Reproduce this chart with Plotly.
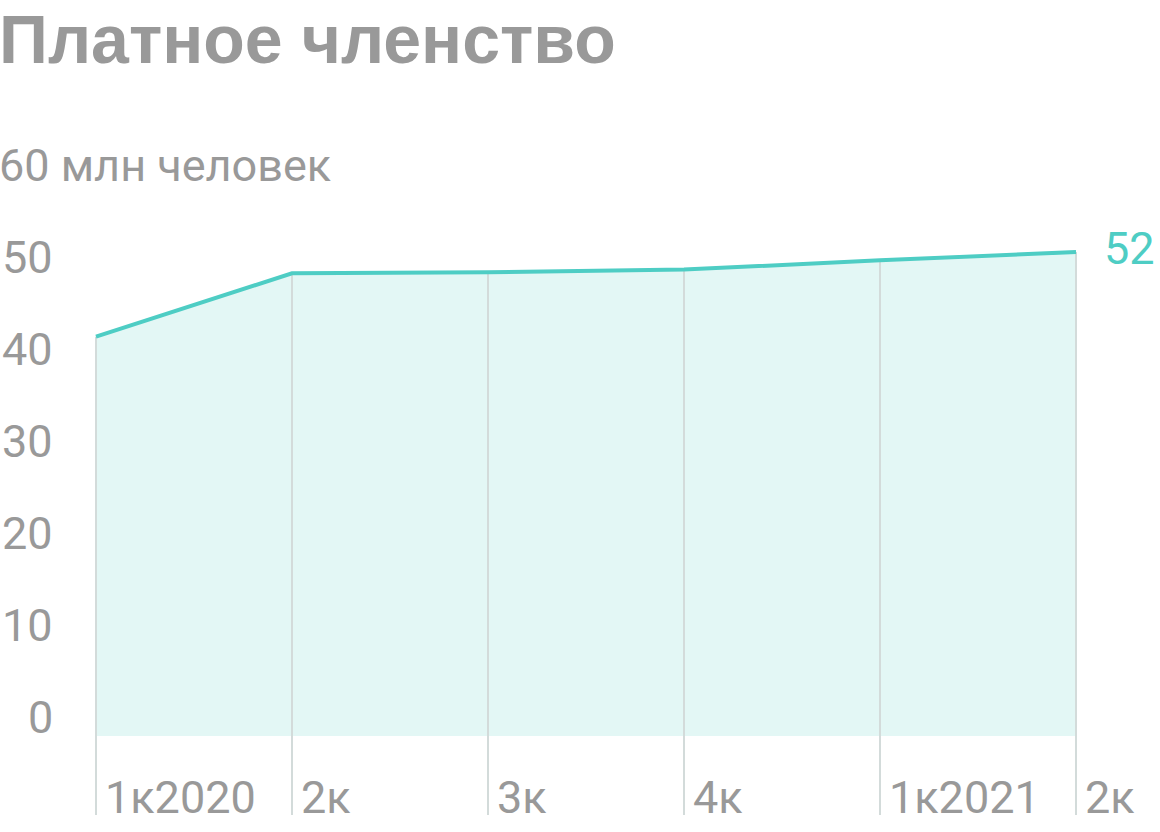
import plotly.graph_objects as go

# ---- data ----
categories = ["1к2020", "2к", "3к", "4к", "1к2021", "2к"]
members = [43.4, 50.3, 50.4, 50.7, 51.7, 52.6]
end_label = "52"
y_ticks = [0, 10, 20, 30, 40, 50, 60]
y_unit = "млн человек"
title = "Платное членство"

# ---- style ----
W, H = 1160, 832
TEAL = "#4ECDC4"
FILL = "#E3F7F5"
GRID = "#D3DBDA"
GRAY = "#999999"
FONT = "Roboto"
FS = 45

PX_PER_UNIT = 9.2
Y_BOTTOM_PX = 815     # bottom of plot area
ZERO_PX = 736
X0_PX, DX_PX = 96, 196

y_min = -(Y_BOTTOM_PX - ZERO_PX) / PX_PER_UNIT
y_max = ZERO_PX / PX_PER_UNIT
x_min = -X0_PX / DX_PX
x_max = (len(categories) - 1) + (W - (X0_PX + DX_PX * (len(categories) - 1))) / DX_PX

xs = list(range(len(categories)))

fig = go.Figure()

# area fill
fig.add_trace(go.Scatter(x=xs, y=members, mode="lines", line=dict(width=0, color=FILL),
                         fill="tozeroy", fillcolor=FILL, hoverinfo="skip", showlegend=False))

# vertical grid segments from bottom to the value
gx, gy = [], []
for i, v in zip(xs, members):
    gx += [i, i, None]
    gy += [y_min, v, None]
fig.add_trace(go.Scatter(x=gx, y=gy, mode="lines", line=dict(color=GRID, width=2),
                         hoverinfo="skip", showlegend=False))

# main line
fig.add_trace(go.Scatter(x=xs, y=members, mode="lines", line=dict(color=TEAL, width=4),
                         hoverinfo="skip", showlegend=False))

annotations = []
# title
annotations.append(dict(text=f"<b>{title}</b>", xref="paper", yref="paper", x=0, y=1,
                        xanchor="left", yanchor="top", showarrow=False, yshift=0, xshift=-2,
                        borderpad=0,
                        font=dict(family="Liberation Sans", size=68, color=GRAY)))
# y tick labels
for t in y_ticks:
    if t == y_ticks[-1]:
        annotations.append(dict(text=f"{t} {y_unit}", xref="paper", yref="y", x=0, y=t,
                                xanchor="left", yanchor="bottom", showarrow=False, yshift=-10,
                                xshift=-3, font=dict(family=FONT, size=FS, color=GRAY)))
    else:
        annotations.append(dict(text=str(t), xref="paper", yref="y", x=55 / W, y=t,
                                xanchor="right", yanchor="bottom", showarrow=False, yshift=-10,
                                font=dict(family=FONT, size=FS, color=GRAY)))
# x labels
for i, c in zip(xs, categories):
    annotations.append(dict(text=c, xref="x", yref="y", x=i, y=y_min, xanchor="left",
                            yanchor="bottom", showarrow=False, xshift=7, yshift=-11,
                            font=dict(family=FONT, size=FS, color=GRAY)))
# end label
annotations.append(dict(text=end_label, xref="x", yref="y", x=xs[-1], y=members[-1],
                        xanchor="left", yanchor="middle", showarrow=False, xshift=26, yshift=4,
                        font=dict(family=FONT, size=FS, color=TEAL)))

fig.update_layout(
    width=W, height=H,
    margin=dict(l=0, r=0, t=0, b=H - Y_BOTTOM_PX, pad=0),
    paper_bgcolor="white", plot_bgcolor="white",
    xaxis=dict(range=[x_min, x_max], visible=False, fixedrange=True),
    yaxis=dict(range=[y_min, y_max], visible=False, fixedrange=True),
    annotations=annotations,
    showlegend=False,
)

fig.write_html("out.html", config={"displayModeBar": False},
               post_script="document.body.style.margin='0';document.body.style.overflow='hidden';")
